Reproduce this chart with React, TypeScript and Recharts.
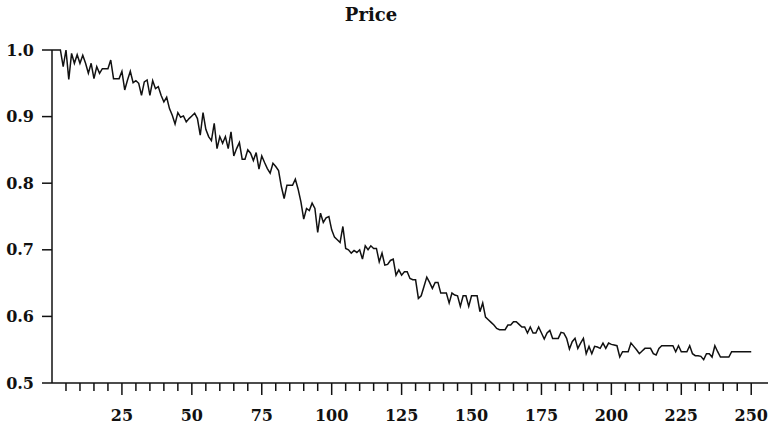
import { LineChart, Line, XAxis, YAxis } from "recharts";

// price per step, step = array index (0..250)
const price = [
  1.0, 1.0, 1.0, 1.0, 0.975, 1.0, 0.956, 0.995, 0.98, 0.993,
  0.98, 0.992, 0.98, 0.965, 0.98, 0.957, 0.975, 0.965, 0.972, 0.972,
  0.972, 0.985, 0.957, 0.957, 0.957, 0.968, 0.94, 0.955, 0.968, 0.951,
  0.954, 0.95, 0.932, 0.952, 0.955, 0.932, 0.954, 0.942, 0.945, 0.932,
  0.922, 0.929, 0.912, 0.902, 0.889, 0.906, 0.899, 0.901, 0.892, 0.897,
  0.901, 0.905, 0.897, 0.872, 0.906, 0.881, 0.87, 0.864, 0.89, 0.852,
  0.87, 0.86, 0.87, 0.852, 0.877, 0.841, 0.852, 0.861, 0.836, 0.836,
  0.85, 0.845, 0.834, 0.846, 0.821, 0.841, 0.831, 0.822, 0.815, 0.83,
  0.825, 0.819, 0.795, 0.777, 0.797, 0.797, 0.797, 0.806, 0.791, 0.772,
  0.746, 0.762, 0.759, 0.77, 0.762, 0.726, 0.755, 0.741, 0.748, 0.75,
  0.73, 0.719, 0.715, 0.711, 0.735, 0.702, 0.7, 0.695, 0.699, 0.696,
  0.7, 0.686, 0.706, 0.7, 0.706, 0.702, 0.702, 0.682, 0.695, 0.677,
  0.678, 0.684, 0.686, 0.662, 0.67, 0.662, 0.667, 0.667, 0.657, 0.655,
  0.655, 0.627, 0.631, 0.645, 0.659, 0.651, 0.642, 0.651, 0.651, 0.635,
  0.635, 0.635, 0.62, 0.635, 0.632, 0.631, 0.615, 0.631, 0.631, 0.615,
  0.631, 0.631, 0.631, 0.607, 0.62, 0.599, 0.595, 0.591, 0.587, 0.582,
  0.58, 0.58, 0.58, 0.587, 0.587, 0.592, 0.592, 0.588, 0.584, 0.584,
  0.575, 0.584, 0.575, 0.575, 0.584, 0.575, 0.566, 0.575, 0.579, 0.567,
  0.567, 0.567, 0.576, 0.575, 0.567, 0.551, 0.562, 0.567, 0.552, 0.56,
  0.567, 0.544, 0.555, 0.544, 0.555, 0.554, 0.552, 0.56, 0.552, 0.56,
  0.558, 0.557, 0.556, 0.539, 0.547, 0.547, 0.547, 0.56, 0.555, 0.55,
  0.544, 0.548, 0.552, 0.552, 0.552, 0.544, 0.542, 0.552, 0.556, 0.556,
  0.556, 0.556, 0.556, 0.547, 0.556, 0.547, 0.547, 0.547, 0.556, 0.544,
  0.541, 0.541, 0.54, 0.535, 0.544, 0.544, 0.539, 0.556, 0.547, 0.539,
  0.539, 0.539, 0.539, 0.547, 0.547, 0.547, 0.547, 0.547, 0.547, 0.547, 0.547,
];

const xTicks = [
  5, 10, 15, 20, 25, 30, 35, 40, 45, 50, 55, 60, 65, 70, 75, 80, 85, 90, 95, 100,
  105, 110, 115, 120, 125, 130, 135, 140, 145, 150, 155, 160, 165, 170, 175, 180,
  185, 190, 195, 200, 205, 210, 215, 220, 225, 230, 235, 240, 245, 250,
];
const yTicks = [0.5, 0.6, 0.7, 0.8, 0.9, 1.0];

const data = price.map((p, i) => ({ step: i, price: p }));

const FONT = "'DejaVu Serif', serif";
const INK = "#111";

function StepTick({ x, y, payload }: { x?: number; y?: number; payload?: { value: number } }) {
  if (x == null || y == null || !payload) return null;
  const major = payload.value % 25 === 0;
  return (
    <g>
      <line x1={x} x2={x} y1={y} y2={y + (major ? 12 : 8)} stroke={INK} strokeWidth={1.5} />
      {major && (
        <text x={x} y={y + 38} textAnchor="middle" fontFamily={FONT} fontWeight="bold" fontSize={16} fill={INK}>
          {payload.value}
        </text>
      )}
    </g>
  );
}

export default function App() {
  return (
    <div style={{ position: "relative", width: 772, height: 431, background: "#fff" }}>
      <style>{`body { margin: 0; }`}</style>
      <div
        style={{
          position: "absolute",
          left: 271,
          top: 6,
          width: 200,
          textAlign: "center",
          fontFamily: FONT,
          fontWeight: "bold",
          fontSize: 18,
          lineHeight: "18px",
          color: INK,
        }}
      >
        Price
      </div>
      <LineChart width={772} height={431} data={data} margin={{ top: 50, right: 4, left: 0, bottom: 0 }}>
        <XAxis
          dataKey="step"
          type="number"
          domain={[0, 256]}
          ticks={xTicks}
          interval={0}
          height={48}
          tickLine={false}
          tickSize={0}
          tickMargin={0}
          tick={<StepTick />}
          axisLine={{ stroke: INK, strokeWidth: 1.5 }}
        />
        <YAxis
          type="number"
          domain={[0.5, 1.0]}
          ticks={yTicks}
          interval={0}
          width={52}
          tickSize={10}
          tickMargin={8}
          tickFormatter={(v: number) => v.toFixed(1)}
          tick={{ fontFamily: FONT, fontWeight: "bold", fontSize: 16, fill: INK }}
          tickLine={{ stroke: INK, strokeWidth: 1.5 }}
          axisLine={{ stroke: INK, strokeWidth: 1.5 }}
        />
        <Line
          type="linear"
          dataKey="price"
          stroke={INK}
          strokeWidth={1.5}
          dot={false}
          isAnimationActive={false}
        />
      </LineChart>
    </div>
  );
}
